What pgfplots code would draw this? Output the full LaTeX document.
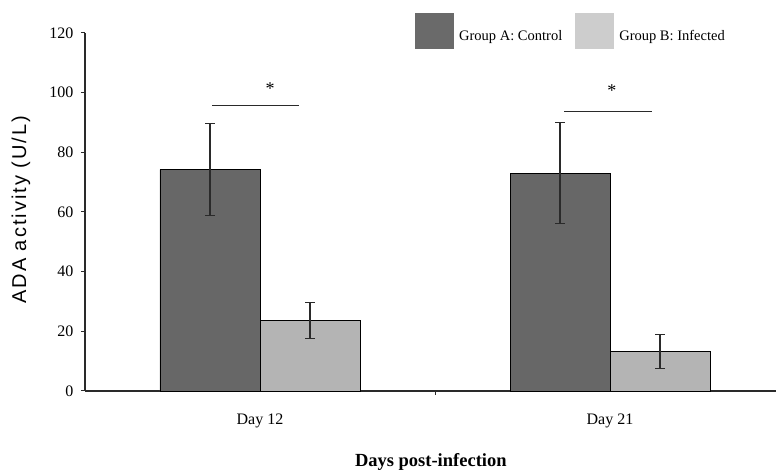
\documentclass[border=0pt]{standalone}
\usepackage{pgfplots}
\pgfplotsset{compat=1.18}
\usepackage{fontspec}
\setmainfont{Liberation Serif}
\newfontfamily\labfont[LetterSpace=10]{Liberation Sans}
\definecolor{grpA}{HTML}{676767}
\definecolor{grpB}{HTML}{B4B4B4}
\definecolor{legA}{HTML}{6A6A6A}
\definecolor{legB}{HTML}{CDCDCD}
\definecolor{axc}{HTML}{2A2A2A}
\begin{document}
\begin{tikzpicture}
\path[use as bounding box] (-85pt,-79pt) rectangle (691pt,391pt);
\begin{axis}[
  at={(0pt,0pt)}, anchor=south west,
  scale only axis, width=700pt, height=358pt,
  xmin=-0.5, xmax=1.5, ymin=0, ymax=120,
  axis x line=bottom, axis y line=left,
  axis line style={-, axc, line width=1.1pt},
  ytick={0,20,...,120},
  xtick={0,1}, xticklabels={Day 12, Day 21},
  minor xtick={0.5},
  tick align=outside, major tick length=4pt, minor tick length=4pt,
  major x tick style={draw=none},
  tick style={axc, line width=1pt},
  /pgf/number format/assume math mode=true,
  ticklabel style={font=\fontsize{16}{18}\selectfont},
  yticklabel style={xshift=-4pt},
  xticklabel style={yshift=-15pt},
  xlabel={Days post-infection},
  xlabel style={at={(axis description cs:0.494,0)}, anchor=center, yshift=-71pt, font=\bfseries\fontsize{18.5}{20}\selectfont},
  ylabel={ADA activity (U/L)},
  ylabel style={at={(axis description cs:0,0.506)}, anchor=center, yshift=64pt, font=\labfont\fontsize{20}{22}\selectfont},
  clip=false,
  legend columns=2,
  legend style={at={(rel axis cs:0.4714,1.0567)}, anchor=north west, draw=none, fill=none, inner sep=0pt,
    font=\fontsize{14.5}{16}\selectfont, column sep=0pt,
    /tikz/every odd column/.append style={column sep=4pt},
    /tikz/every even column/.append style={column sep=12pt},
    nodes={inner sep=1pt, anchor=west}},
  legend image code/.code={\fill[#1] (0pt,-12.5pt) rectangle (39pt,23.5pt);},
  error bars/error bar style={axc, line width=1.1pt},
  error bars/error mark options={rotate=90, mark size=5pt, line width=1.1pt, axc},
]
\addplot[ybar, bar width=100pt, bar shift=0pt, fill=grpA, draw=black, line width=0.9pt, forget plot,
  error bars/.cd, y dir=both, y explicit]
  coordinates {(-0.142857,74.2) +- (0,15.4) (0.857143,73.0) +- (0,17.0)};
\addplot[ybar, bar width=100pt, bar shift=0pt, fill=grpB, draw=black, line width=0.9pt, forget plot,
  error bars/.cd, y dir=both, y explicit]
  coordinates {(0.142857,23.6) +- (0,6.0) (1.142857,13.2) +- (0,5.7)};
\addlegendimage{fill=legA, draw=none}
\addlegendentry{Group A: Control}
\addlegendimage{fill=legB, draw=none}
\addlegendentry{Group B: Infected}
\addplot[axc, line width=1.2pt, forget plot] coordinates {(-0.137,95.6) (0.111,95.6)};
\addplot[axc, line width=1.2pt, forget plot] coordinates {(0.869,93.6) (1.119,93.6)};
\node[font=\fontsize{18}{20}\selectfont, inner sep=0pt] at (axis cs:0.0286,101.5) {*};
\node[font=\fontsize{18}{20}\selectfont, inner sep=0pt] at (axis cs:1.005,100.8) {*};
\end{axis}
\end{tikzpicture}
\end{document}
